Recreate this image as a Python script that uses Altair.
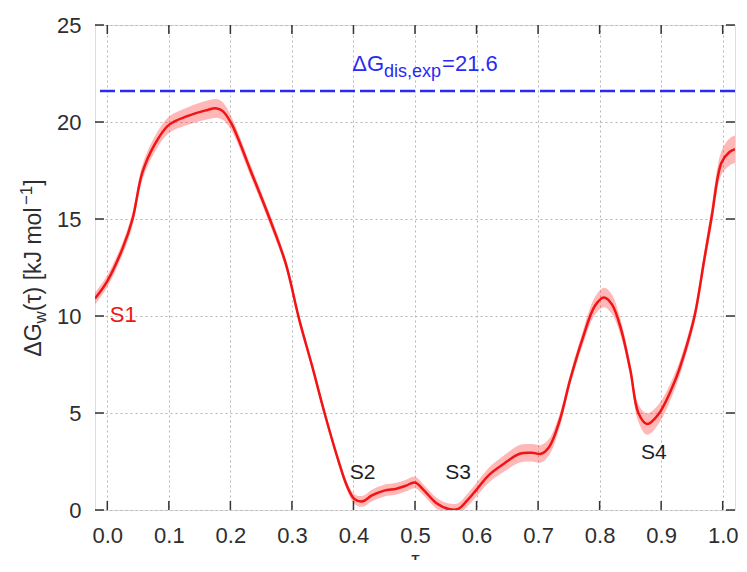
import altair as alt
import pandas as pd

FONT = "Liberation Sans"

# ---- data ----
tau = [-0.02, 0.0, 0.025, 0.041, 0.057, 0.078, 0.1, 0.13, 0.16, 0.178,
       0.188, 0.202, 0.234, 0.264, 0.29, 0.312, 0.333, 0.353, 0.375, 0.39,
       0.402, 0.415, 0.43, 0.45, 0.47, 0.485, 0.5, 0.515, 0.535, 0.555,
       0.57, 0.585, 0.6, 0.62, 0.645, 0.67, 0.69, 0.705, 0.718, 0.735,
       0.752, 0.772, 0.792, 0.807, 0.82, 0.835, 0.85, 0.863, 0.877, 0.896,
       0.923, 0.94, 0.955, 0.97, 0.982, 0.998, 1.011, 1.02]
dG = [10.9, 11.8, 13.5, 15.0, 17.4, 18.9, 19.85, 20.3, 20.6, 20.7,
      20.55, 19.9, 17.4, 15.0, 12.7, 9.8, 7.4, 5.0, 2.6, 1.2,
      0.55, 0.45, 0.75, 1.0, 1.1, 1.25, 1.42, 1.0, 0.35, 0.05,
      0.05, 0.5, 1.05, 1.8, 2.4, 2.9, 2.95, 2.9, 3.25, 4.6,
      6.7, 8.8, 10.5, 10.95, 10.6, 9.3, 7.2, 5.0, 4.43, 4.95,
      6.7, 8.3, 10.1, 12.9, 15.1, 17.9, 18.45, 18.6]
err = [0.3, 0.3, 0.32, 0.35, 0.38, 0.4, 0.42, 0.45, 0.48, 0.48,
       0.45, 0.35, 0.3, 0.28, 0.25, 0.22, 0.2, 0.2, 0.2, 0.22,
       0.25, 0.28, 0.3, 0.3, 0.3, 0.3, 0.3, 0.28, 0.28, 0.28,
       0.3, 0.32, 0.35, 0.38, 0.42, 0.45, 0.45, 0.45, 0.42, 0.35,
       0.3, 0.35, 0.45, 0.5, 0.5, 0.4, 0.35, 0.45, 0.55, 0.5,
       0.4, 0.35, 0.35, 0.4, 0.5, 0.6, 0.7, 0.7]

exp_dG = 21.6
label_text = ["S1", "S2", "S3", "S4"]
label_tau = [0.026, 0.415, 0.570, 0.888]
label_G = [10.05, 1.92, 1.92, 2.92]
annot_tau = 0.398
annot_G = 22.63

xticks = [0.0, 0.1, 0.2, 0.3, 0.4, 0.5, 0.6, 0.7, 0.8, 0.9, 1.0]
yticks = [0, 5, 10, 15, 20, 25]

# ---- geometry / style ----
W, H = 640, 485
PAD_L = 87
TICK = 9
TXT = "#2e2e2e"
RED = "#f01414"
BLUE = "#2a2af2"

df = pd.DataFrame({"tau": tau, "G": dG,
                   "lo": [g - e for g, e in zip(dG, err)],
                   "hi": [g + e for g, e in zip(dG, err)]})

xscale = alt.Scale(domain=[-0.02, 1.02], nice=False, zero=False)
yscale = alt.Scale(domain=[0, 25], nice=False, zero=False)

common_axis = dict(labelFont=FONT, labelFontSize=22, labelColor=TXT,
                   grid=True, gridDash=[2, 3], gridColor="#b4b4b4", gridWidth=1,
                   ticks=False, tickSize=0, domain=False, labelFlush=False)
xaxis = alt.Axis(values=xticks, format=".1f", title="τ", titleFont=FONT,
                 titleFontSize=21, titleColor=TXT, titleFontWeight="normal",
                 labelPadding=15, titlePadding=2, **common_axis)
yaxis = alt.Axis(values=yticks, title=None, labelPadding=14, **common_axis)

X = lambda f="tau": alt.X(f"{f}:Q", scale=xscale, axis=xaxis)
Y = lambda f="G": alt.Y(f"{f}:Q", scale=yscale, axis=yaxis)

band = alt.Chart(df).mark_area(color="#ff2020", opacity=0.32, interpolate="catmull-rom",
                               clip=True).encode(x=X(), y=Y("lo"), y2="hi")
line = alt.Chart(df).mark_line(color=RED, strokeWidth=2.5, interpolate="catmull-rom",
                               clip=True).encode(x=X(), y=Y())

exp_rule = alt.Chart(pd.DataFrame({"G": [exp_dG]})).mark_rule(
    color=BLUE, strokeWidth=2.5, strokeDash=[15, 5]).encode(y=Y())

# ticks pointing inward on all four sides
xt = pd.DataFrame({"tau": xticks})
yt = pd.DataFrame({"G": yticks})
tick_style = dict(color="#333333", strokeWidth=1.5)
tb = alt.Chart(xt).mark_rule(**tick_style).encode(x=X(), y=alt.value(H), y2=alt.value(H - TICK))
tt = alt.Chart(xt).mark_rule(**tick_style).encode(x=X(), y=alt.value(0), y2=alt.value(TICK))
tl = alt.Chart(yt).mark_rule(**tick_style).encode(y=Y(), x=alt.value(0), x2=alt.value(TICK))
tr = alt.Chart(yt).mark_rule(**tick_style).encode(y=Y(), x=alt.value(W), x2=alt.value(W - TICK))

# state labels
lab = pd.DataFrame({"tau": label_tau, "G": label_G, "t": label_text})
s1 = alt.Chart(lab.iloc[:1]).mark_text(font=FONT, fontSize=22, color=RED,
                                       align="center", baseline="middle").encode(
    x=X(), y=Y(), text="t:N")
sk = alt.Chart(lab.iloc[1:]).mark_text(font=FONT, fontSize=21, color="#1e1e1e",
                                       align="center", baseline="middle").encode(
    x=X(), y=Y(), text="t:N")

# Arial / Liberation Sans advance widths (em)
MET = {"Δ": 0.668, "G": 0.778, "w": 0.722, "(": 0.333, "τ": 0.5, ")": 0.333,
       " ": 0.278, "[": 0.278, "k": 0.5, "J": 0.5, "m": 0.833, "o": 0.556,
       "l": 0.222, "−": 0.584, "1": 0.556, "]": 0.278, "d": 0.556, "i": 0.222,
       "s": 0.5, ",": 0.278, "e": 0.556, "x": 0.5, "p": 0.556}


def tw(s, size):
    return sum(MET.get(c, 0.556) for c in s) * size


# blue annotation: ΔG_{dis,exp}=21.6
adf = pd.DataFrame({"tau": [annot_tau], "G": [annot_G]})
annot = []
sub_dx = tw("ΔG", 22)
for txt, size, dx, dy in [("ΔG", 22, 0, 0),
                          ("dis,exp", 18, sub_dx, 6),
                          (f"={exp_dG}", 22, sub_dx + tw("dis,exp", 18) + 1, 0)]:
    annot.append(alt.Chart(adf).mark_text(text=txt, font=FONT, fontSize=size, color=BLUE,
                                          align="left", baseline="alphabetic",
                                          dx=dx, dy=dy).encode(x=X(), y=Y()))

# rotated y title: ΔG_w(τ) [kJ mol^-1]
pieces = [("ΔG", 23, 0), ("w", 17, 5), ("(τ) [kJ mol", 23, 0), ("−1", 17, -9), ("]", 23, 0)]
L = sum(tw(t, s) for t, s, _ in pieces)
pos = 243 + L / 2
base_x = 40.5 - (PAD_L + 8)
ytitle = []
one = pd.DataFrame({"k": [0]})
for txt, size, sh in pieces:
    ytitle.append(alt.Chart(one).mark_text(text=txt, font=FONT, fontSize=size, color=TXT,
                                           angle=270, align="left", baseline="alphabetic").encode(
        x=alt.value(base_x + sh), y=alt.value(pos)))
    pos -= tw(txt, size)

chart = alt.layer(band, line, exp_rule, tb, tt, tl, tr, s1, sk, *annot, *ytitle).properties(
    width=W, height=H,
    autosize=alt.AutoSizeParams(type="none"),
    padding={"left": PAD_L, "top": 17, "right": 731 - PAD_L - W, "bottom": 50},
).configure_view(stroke="#303030", strokeWidth=2).configure(background="white")

chart.save("out.html", embed_options={"renderer": "svg", "actions": False})
